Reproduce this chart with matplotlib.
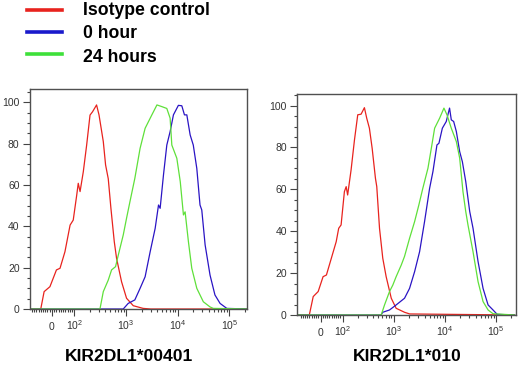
import numpy as np
import matplotlib.pyplot as plt
from matplotlib.lines import Line2D
from matplotlib.ticker import MultipleLocator

plt.rcParams['font.family'] = ['Liberation Sans', 'DejaVu Sans']
plt.rcParams['mathtext.fontset'] = 'custom'
plt.rcParams['mathtext.rm'] = 'Liberation Sans'
plt.rcParams['mathtext.it'] = 'Liberation Sans:italic'

series = ['Isotype control', '0 hour', '24 hours']
colors = ['#e8231e', '#2a14c4', '#5fe03a']
legend_colors = ['#e8231e', '#1a1acc', '#3ee03a']
titles = ['KIR2DL1*00401', 'KIR2DL1*010']

xtick_vals = [0, 100, 1000, 10000, 100000]
xtick_labels = ['0', '$10^2$', '$10^3$', '$10^4$', '$10^5$']

# panel 1 : KIR2DL1*00401  (fluorescence intensity, % of max)
red_a_x = [-100, -50, -35, -9, 20, 36, 58, 81, 95, 111, 119, 129, 149, 173, 201, 225, 269, 300,
           363, 402, 453, 510, 592, 656, 819, 1023, 1380, 2140, 3000, 230000]
red_a_y = [0, 0, 8.4, 10.8, 18.9, 19.7, 27.7, 40.6, 43, 55, 60.8, 56.8, 66.4, 79.3, 93.8, 95.4, 98.7, 93.9,
           81, 69.7, 63, 48.7, 32.6, 24.5, 13.2, 5.2, 1.6, 0.3, 0, 0]
blue_a_x = [-100, 883, 1100, 1480, 1870, 2340, 2930, 3660, 4250, 4570, 5300, 6150, 7130, 8260, 10300,
            12000, 13500, 15000, 17400, 20000, 23400, 27000, 29200, 33900, 42200, 52500, 66000, 89000, 230000]
blue_a_y = [0, 0, 2.7, 4.4, 10, 15.6, 27.7, 39, 50.3, 48.7, 64.8, 79.3, 85.8, 93.9, 98.5,
            98.3, 93.9, 93.9, 84.2, 79.3, 68, 50.3, 47.9, 31, 16.4, 6.8, 2.7, 0.3, 0]
green_a_x = [-100, 313, 363, 453, 525, 627, 707, 883, 1023, 1190, 1480, 1870, 2340, 3160, 3960, 4920,
             6150, 7130, 7690, 9610, 11200, 12900, 13900, 16100, 18700, 23400, 31300, 42200, 48800, 230000]
green_a_y = [0, 0, 8.4, 14, 18.9, 20.5, 26, 35.8, 43.9, 51.9, 63.2, 77.7, 87.4, 93.9, 98.7, 97.9,
             97, 92.3, 79.3, 72.9, 61.6, 45.5, 47, 32.6, 19.7, 10, 3.5, 1, 0.3, 0]

# panel 2 : KIR2DL1*010
red_b_x = [-100, -50.6, -33, -10.6, 11.5, 26.6, 48.8, 70.7, 82, 92.8, 108, 117, 125, 146, 170, 197, 229,
           266, 295, 333, 377, 437, 464, 525, 608, 708, 891, 1110, 1620, 2040, 230000]
red_b_y = [0, 0, 8.8, 11.2, 18.3, 19.1, 27.1, 35, 41.4, 43, 58.9, 61.3, 57.3, 69.3, 83.6, 95.6, 95.9,
           99, 94, 89.2, 79.6, 65.3, 61.3, 41.4, 27.1, 18.3, 8, 3.2, 1.3, 0.5, 0]
blue_b_x = [-100, 560, 608, 824, 1110, 1620, 2030, 2550, 3190, 3990, 5010, 5820, 6970, 7620, 8890, 10600,
            12300, 13300, 14800, 16700, 19400, 21900, 25500, 30500, 35400, 44400, 55600, 69700, 87100,
            105000, 230000]
blue_b_y = [0, 0, 1.3, 2.4, 4.8, 8, 12.7, 20.7, 30.2, 44.6, 60.5, 68.5, 81.2, 82, 89.2, 92.4,
            98.8, 93.2, 92.4, 87.6, 78, 73.2, 63.7, 49.4, 41.4, 25.5, 12.7, 4.8, 2.4,
            0.3, 0]
green_b_x = [-100, 566, 658, 824, 956, 1110, 1400, 1620, 2030, 2550, 3090, 3690, 4650, 5410, 6280, 7870,
             9550, 10950, 13300, 16700, 19400, 22500, 25500, 28200, 35400, 44400, 55600, 69700, 87100, 230000]
green_b_y = [0, 0, 4.8, 11.2, 14.3, 18.3, 23.9, 28, 36.6, 44.6, 52.6, 60.5, 70.1, 79.6, 89.2, 94,
             98.8, 95.6, 89.2, 82.8, 74.9, 58.9, 49.4, 43, 30.2, 15.9, 6.4, 2.4, 0.6, 0]

panels = [
    [(red_a_x, red_a_y), (blue_a_x, blue_a_y), (green_a_x, green_a_y)],
    [(red_b_x, red_b_y), (blue_b_x, blue_b_y), (green_b_x, green_b_y)],
]

fig = plt.figure(figsize=(5.2, 3.65), dpi=100)

# axes boxes (left, bottom, width, height) in figure fraction
boxes = [[0.0577, 0.1534, 0.4173, 0.6027], [0.5717, 0.1370, 0.4206, 0.6047]]
ytops = [106.4, 105.4]
xlims = [(-98, 219000), (-105, 245000)]
title_x = [129, 407]

minor_x = list(range(-90, 0, 10)) + list(range(10, 100, 10))
for dec in [100, 1000, 10000]:
    minor_x += [k * dec for k in range(2, 10)]
minor_x += [200000]

for i, box in enumerate(boxes):
    ax = fig.add_axes(box)
    ax.set_xscale('symlog', linthresh=100, linscale=0.39, base=10)
    for (xs, ys), c in zip(panels[i], colors):
        ax.plot(xs, ys, color=c, lw=0.9)
    ax.set_xlim(*xlims[i])
    ax.set_ylim(0, ytops[i])

    ax.set_xticks(xtick_vals)
    ax.set_xticklabels(xtick_labels)
    ax.set_xticks(minor_x, minor=True)
    ax.set_yticks([0, 20, 40, 60, 80, 100])
    ax.yaxis.set_minor_locator(MultipleLocator(5))

    ax.tick_params(axis='both', which='both', direction='out', colors='#444444',
                   labelsize=7.5, labelcolor='#333333', width=0.8)
    ax.tick_params(axis='both', which='major', length=5)
    ax.tick_params(axis='both', which='minor', length=2.5)
    ax.tick_params(axis='x', which='major', pad=10)
    ax.tick_params(axis='y', which='major', pad=2.5)
    for lab in ax.get_xticklabels():
        lab.set_va('baseline')
    for sp in ax.spines.values():
        sp.set_color('#505050')
        sp.set_linewidth(1.0)

    fig.text(title_x[i] / 520, 1 - 361 / 365, titles[i], ha='center', va='baseline',
             fontsize=12.6, fontweight='bold')

# legend drawn at the top left
leg_line_y = [10, 32, 53.5]
leg_text_y = [15, 38.3, 61.7]
for lab, c, ly, ty in zip(series, legend_colors, leg_line_y, leg_text_y):
    fig.add_artist(Line2D([27 / 520, 62 / 520], [1 - ly / 365, 1 - ly / 365], color=c, lw=2.6,
                          transform=fig.transFigure))
    fig.text(83 / 520, 1 - ty / 365, lab, ha='left', va='baseline', fontsize=12.7, fontweight='bold')

fig.savefig('out.png', dpi=100)
